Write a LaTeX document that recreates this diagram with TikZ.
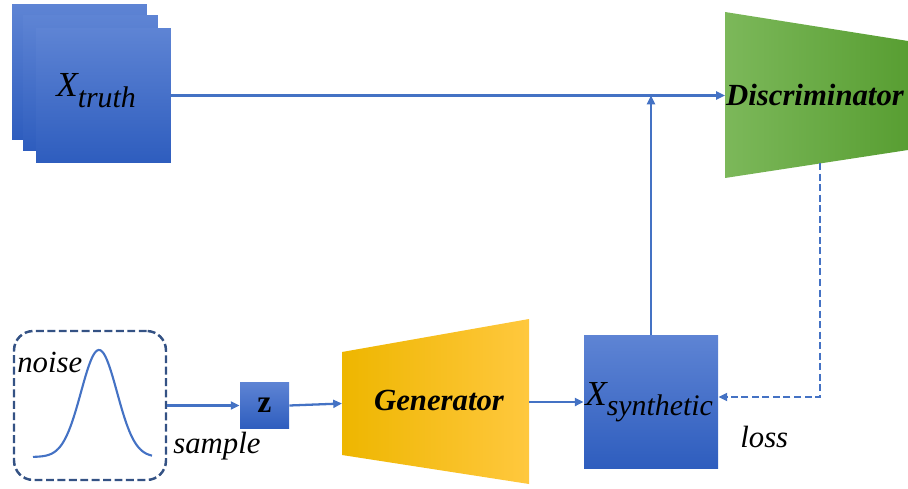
\documentclass[tikz,border=0pt]{standalone}
\usepackage{fontspec}
\setmainfont{Liberation Serif}
\usetikzlibrary{arrows.meta,calc}

\definecolor{boxtop}{RGB}{94,132,212}
\definecolor{boxbot}{RGB}{46,93,190}
\definecolor{flow}{RGB}{68,114,196}
\definecolor{discL}{RGB}{124,184,90}
\definecolor{discR}{RGB}{88,158,50}
\definecolor{genL}{RGB}{238,182,0}
\definecolor{genM}{RGB}{255,192,0}
\definecolor{genR}{RGB}{255,200,62}
\definecolor{noiseline}{RGB}{52,82,132}

\tikzset{
  blockbox/.style={top color=boxtop, bottom color=boxbot, inner sep=0pt,
    minimum width=#1, minimum height=#1},
  conn/.style={draw=flow, line width=1.3pt,
    -{Triangle[length=5pt,width=4.5pt]}},
  lossline/.style={conn, dash pattern=on 4pt off 2pt},
  lbl/.style={inner sep=0pt, font=\fontsize{17.5}{20}\selectfont\itshape},
  boldlbl/.style={inner sep=0pt, font=\fontsize{17.5}{20}\selectfont\bfseries\itshape},
}

\newcommand{\bigX}{{\fontsize{20}{20}\selectfont\itshape X}}
\newcommand{\subtxt}[1]{\raisebox{-6pt}{\fontsize{17}{20}\selectfont\itshape #1}}

\begin{document}
\begin{tikzpicture}[x=0.02cm, y=-0.02cm]
  \useasboundingbox (0,0) rectangle (908,489);

  % stack of real samples
  \node[blockbox=2.7cm] (truth3) at (79.5,72) {};
  \node[blockbox=2.7cm] (truth2) at (90.5,83) {};
  \node[blockbox=2.7cm] (truth)  at (103.5,95.5) {};
  \node[inner sep=0pt, anchor=base west] (truthlabel) at (56,97) {\bigX\subtxt{truth}};

  % discriminator
  \shade[left color=discL, right color=discR]
    (725,12) -- (908,41) -- (908,150) -- (725,178) -- cycle;
  \node[boldlbl, anchor=base] (disc) at (815,106) {Discriminator};
  \coordinate (discin)  at (725,95.5);
  \coordinate (discout) at (820,163);

  % generator
  \shade[left color=genL, middle color=genM, right color=genR]
    (342,352) -- (529,319) -- (529,484) -- (342,455) -- cycle;
  \node[boldlbl, anchor=base] (gen) at (439,410) {Generator};
  \coordinate (genin)  at (342,403.5);
  \coordinate (genout) at (529,402);

  % synthetic sample
  \node[blockbox=2.68cm] (xsyn) at (651,402) {};
  \node[inner sep=0pt, anchor=base west] (xsynlabel) at (585,405) {\bigX\subtxt{synthetic}};

  % latent code
  \node[top color=boxtop, bottom color=boxbot, inner sep=0pt,
        minimum width=0.98cm, minimum height=0.94cm,
        font=\fontsize{18}{20}\selectfont\bfseries] (z) at (264.5,405.5) {z};

  % noise distribution
  \node[draw=noiseline, line width=1.4pt, dash pattern=on 4.5pt off 2pt,
        rounded corners=11pt, minimum width=3.04cm, minimum height=2.98cm]
        (noisebox) at (90,405.5) {};
  \draw[flow, line width=1.2pt] plot[domain=33:152, samples=90, smooth]
    (\x, {457 - 107*exp(-((\x-99)*(\x-99))/(2*18*18))});
  \node[lbl, anchor=base west] (noise) at (17,372) {noise};

  % connectors
  \draw[conn] (truth.east) -- (discin);
  \draw[conn] (xsyn.north) -- (xsyn.north |- truth.east);
  \draw[lossline] (discout) -- (discout |- {$(xsyn.east)+(0,-5)$})
                  -- ($(xsyn.east)+(0,-5)$);
  \draw[conn] (noisebox.east) -- (z.west);
  \draw[conn] (z.east) -- (genin);
  \draw[conn] (genout) -- (xsyn.west);

  % connector labels
  \node[lbl, anchor=base west] (sample) at (173,453) {sample};
  \node[lbl, anchor=base west] (loss) at (740,447) {loss};
\end{tikzpicture}
\end{document}
